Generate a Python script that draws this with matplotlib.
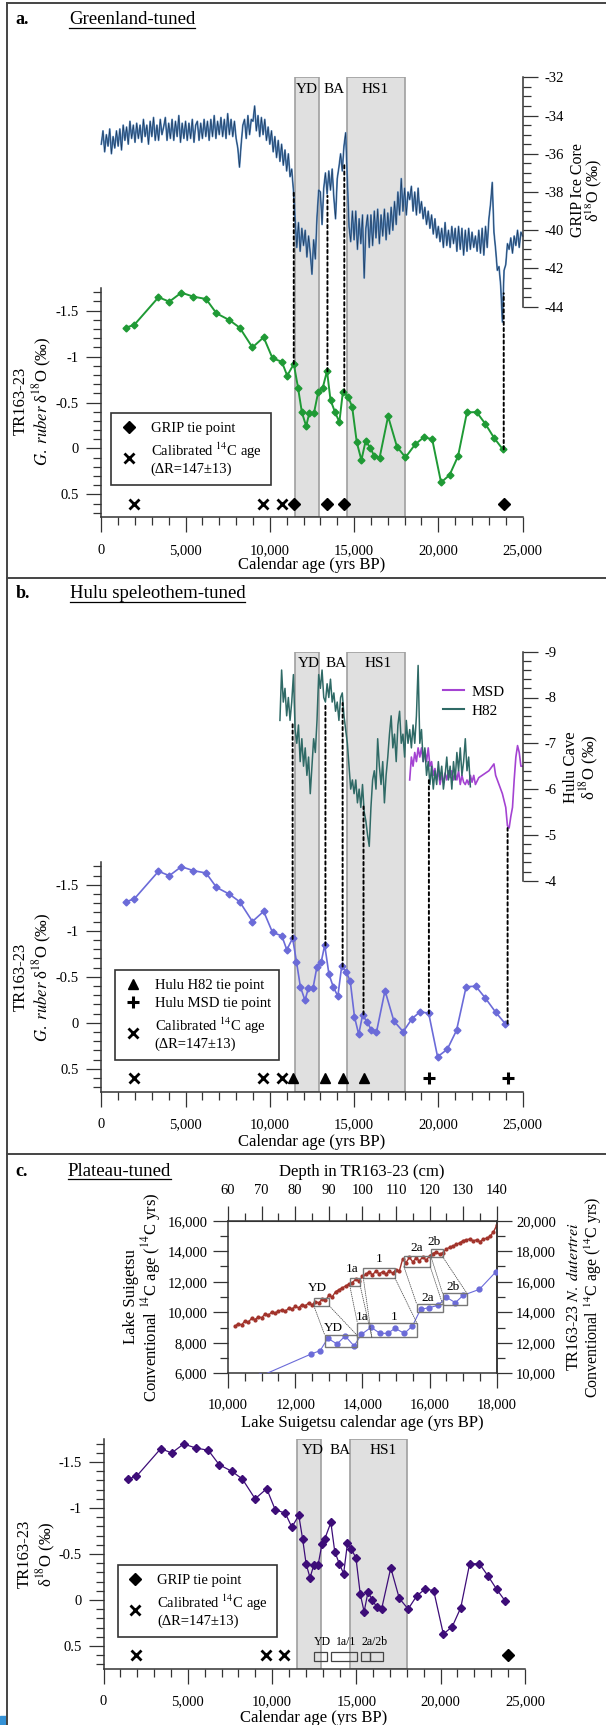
import numpy as np
import matplotlib
matplotlib.use('Agg')
import matplotlib.pyplot as plt
from matplotlib.patches import Rectangle, ConnectionPatch
from matplotlib.lines import Line2D
from matplotlib.ticker import MultipleLocator, FuncFormatter

plt.rcParams['font.family'] = ['Liberation Serif', 'DejaVu Serif']
plt.rcParams['mathtext.fontset'] = 'stix'
plt.rcParams['axes.unicode_minus'] = False

W, H = 606, 1725

# ---------------- data ----------------
# TR163-23 G. ruber d18O (same samples in every panel, different age models)
d18o = [-1.315, -1.344, -1.646, -1.598, -1.696, -1.653, -1.627, -1.471, -1.398, -1.315,
        -1.10, -1.21, -0.981, -0.944, -0.792, -0.919, -0.661, -0.392, -0.243, -0.381,
        -0.381, -0.61, -0.661, -0.843, -0.527, -0.392, -0.287, -0.617, -0.556, -0.454,
        -0.065, 0.127, -0.084, -0.004, 0.08, 0.102, -0.349, -0.018, 0.098, -0.044,
        -0.12, -0.102, 0.37, 0.29, 0.084, -0.392, -0.396, -0.265, -0.116, 0.011]
age_greenland = [1445, 1950, 3394, 4037, 4748, 5459, 6216, 6835, 7592, 8211,
                 8968, 9633, 10161, 10711, 11032, 11422, 11674, 11904, 12156, 12339,
                 12615, 12867, 13142, 13394, 13601, 13876, 14128, 14335, 14656, 14885,
                 15161, 15436, 15688, 15963, 16193, 16514, 17018, 17546, 18050, 18624,
                 19128, 19633, 20161, 20665, 21170, 21697, 22270, 22798, 23303, 23830]
age_hulu = [1445, 1950, 3394, 4037, 4748, 5459, 6216, 6835, 7592, 8211,
            8968, 9633, 10161, 10711, 11010, 11353, 11583, 11812, 12087, 12294,
            12569, 12798, 13050, 13257, 13509, 13761, 14037, 14266, 14518, 14771,
            15023, 15275, 15505, 15780, 16032, 16330, 16835, 17362, 17913, 18440,
            18922, 19427, 19954, 20528, 21078, 21651, 22225, 22798, 23394, 23968]
age_plateau = [1445, 1950, 3394, 4037, 4748, 5459, 6216, 6858, 7615, 8234,
               8991, 9679, 10183, 10780, 11170, 11583, 11812, 12018, 12248, 12477,
               12729, 12959, 13119, 13486, 13716, 13991, 14243, 14472, 14702, 14977,
               15229, 15459, 15688, 15940, 16216, 16491, 17041, 17546, 18073, 18578,
               19083, 19587, 20161, 20688, 21193, 21720, 22294, 22798, 23326, 23830]

cal14c_age = [1930, 9610, 10710]

# GRIP tie points (panel a): age, TR163-23 value, GRIP value
grip_tie_age = [11422, 13420, 14420, 23880]
grip_tie_low = [-0.92, -0.84, -0.61, 0.01]
grip_tie_high = [-38.0, -38.2, -36.5, -43.3]

# Hulu tie points (panel b)
h82_tie_age = [11353, 13300, 14320, 15560]
h82_tie_low = [-0.91, -0.84, -0.61, -0.09]
h82_tie_high = [-7.45, -7.88, -7.88, -5.62]
msd_tie_age = [19440, 24110]
msd_tie_low = [-0.10, 0.01]
msd_tie_high = [-6.2, -5.15]

plateau_grip_tie = [24000]

# GRIP ice core d18O, 100-yr steps from 0 to 25,000 yrs BP
grip_age = np.arange(0, 25001, 100)
grip_d18o = [
    -35.5, -34.8, -35.9, -35.0, -35.6, -34.7, -36.0, -35.1, -35.7, -34.8,
    -35.6, -34.7, -35.8, -34.5, -35.3, -34.6, -35.5, -34.3, -35.2, -34.5,
    -35.4, -34.4, -35.2, -34.5, -35.4, -34.2, -35.1, -34.5, -35.5, -34.3,
    -35.1, -34.1, -35.3, -34.5, -35.3, -34.2, -35.0, -34.6, -34.1, -35.3,
    -34.4, -35.2, -34.2, -35.3, -34.3, -35.1, -34.0, -35.4, -34.4, -35.2,
    -34.3, -35.3, -34.4, -35.2, -34.2, -35.4, -34.5, -34.3, -35.3, -34.4,
    -35.2, -34.2, -35.1, -34.3, -35.3, -34.2, -35.1, -34.0, -35.2, -34.3,
    -35.0, -34.1, -35.1, -34.2, -35.2, -33.9, -35.0, -34.2, -35.1, -34.3,
    -35.2, -35.7, -36.7, -35.5, -34.5, -34.2, -35.2, -34.0, -35.0, -34.2,
    -34.3, -33.5, -34.8, -34.0, -35.1, -34.1, -35.0, -34.2, -35.3, -34.6,
    -35.5, -34.8, -35.9, -35.1, -36.2, -35.3, -36.4, -35.5, -36.6, -35.8,
    -36.9, -36.0, -37.2, -36.8, -37.9, -39.4, -40.9, -39.6, -41.1, -39.9,
    -40.8, -40.0, -41.4, -40.3, -41.2, -42.3, -40.5, -41.5, -39.3, -37.9,
    -38.0, -39.7, -37.8, -37.0, -38.1, -36.9, -37.9, -36.8, -38.3, -39.4,
    -37.3, -36.7, -36.0, -36.9, -35.6, -34.9, -37.4, -39.8, -40.6, -39.0,
    -40.5, -39.0, -41.0, -39.4, -40.7, -39.2, -42.5, -39.9, -39.2, -40.9,
    -39.2, -40.8, -39.0, -40.4, -38.9, -40.7, -39.2, -40.3, -38.9, -40.5,
    -39.1, -40.2, -38.8, -40.0, -38.5, -39.7, -38.0, -39.2, -37.3, -39.0,
    -37.8, -39.2, -38.0, -38.4, -37.7, -39.0, -38.0, -39.2, -37.8, -39.1,
    -38.5, -39.4, -38.8, -39.7, -39.0, -39.9, -39.2, -40.2, -39.4, -40.4,
    -39.8, -40.6, -39.9, -40.9, -39.6, -40.8, -40.0, -40.9, -39.8, -40.7,
    -39.9, -41.1, -39.8, -41.0, -39.9, -41.3, -40.0, -41.1, -39.9, -41.0,
    -40.1, -40.9, -40.3, -41.1, -40.0, -41.2, -39.9, -41.3, -39.8, -40.9,
    -39.4, -38.6, -37.5, -40.1, -41.0, -42.1, -41.9, -42.9, -44.8, -42.1,
    -41.8, -40.7, -41.0, -40.4, -41.2, -40.3, -40.8, -40.0, -40.9, -40.1,
    -40.3]

# Hulu H82 d18O, 100-yr steps from 10,600 to 21,900 yrs BP
h82_age = np.arange(10600, 21901, 100)
h82_d18o = [
    -7.5, -8.6, -7.9, -8.2, -7.6, -8.0, -7.5, -7.9, -8.5, -7.3,
    -7.0, -7.4, -6.6, -7.1, -6.5, -6.9, -6.3, -6.7, -5.9, -6.5,
    -7.1, -6.8, -7.5, -8.5, -8.2, -8.6, -8.0, -7.9, -8.3, -8.0,
    -8.4, -7.9, -8.1, -7.7, -7.9, -7.5, -8.0, -8.1, -7.6, -7.3,
    -7.0, -6.5, -6.0, -6.2, -5.9, -6.2, -5.7, -6.0, -5.6, -6.1,
    -5.5, -5.3, -5.0, -4.75, -5.6, -6.2, -6.4, -6.0, -7.1, -6.5,
    -6.1, -6.6, -5.7, -6.3, -6.7, -7.2, -7.6, -6.9, -7.2, -6.6,
    -7.4, -7.7, -7.0, -7.2, -6.7, -7.5, -7.0, -7.3, -6.9, -7.4,
    -7.0, -7.6, -8.7, -7.0, -7.3, -6.6, -6.9, -6.3, -6.6, -6.1,
    -6.5, -6.0, -6.4, -6.1, -6.6, -6.2, -6.5, -6.0, -6.3, -6.7,
    -6.2, -6.5, -6.0, -6.6, -6.2, -6.8, -6.4, -6.9, -6.3, -6.6,
    -7.1, -6.4, -6.7, -6.05]

# Hulu MSD d18O
msd_age = [18300, 18400, 18500, 18600, 18700, 18800, 18900, 19000, 19100, 19200,
           19300, 19400, 19500, 19600, 19700, 19800, 19900, 20000, 20100, 20200,
           20300, 20400, 20500, 20600, 20700, 20800, 20900, 21000, 21100, 21200,
           21300, 21400, 21500, 21600, 21700, 21800, 21900, 22000, 22100, 22200,
           22400, 22600, 22800, 23000, 23200, 23300, 23400, 23600, 23800, 24000,
           24100, 24200, 24300, 24400, 24500, 24600, 24700, 24800, 24900, 25000]
msd_d18o = [-6.2, -6.7, -6.5, -6.8, -6.6, -6.9, -6.7, -6.9, -6.6, -6.85,
            -6.6, -6.9, -6.5, -6.6, -6.3, -6.45, -6.2, -6.4, -6.1, -6.3,
            -6.15, -6.35, -6.2, -6.4, -6.25, -6.4, -6.2, -6.35, -6.2, -6.4,
            -6.1, -6.3, -6.15, -6.1, -6.2, -6.1, -6.3, -6.15, -6.3, -6.1,
            -6.25, -6.3, -6.35, -6.4, -6.5, -6.55, -6.3, -6.1, -5.9, -5.6,
            -5.2, -5.15, -5.4, -5.6, -6.2, -6.7, -6.95, -6.8, -6.5, -6.5]

# Lake Suigetsu conventional 14C age vs calendar age
sg_age = np.arange(10200, 18001, 100)
sg_c14 = [9080, 9250, 9180, 9420, 9350, 9600, 9520, 9700, 9650, 9880,
          9800, 10020, 9950, 10080, 10150, 10050, 10260, 10200, 10380, 10300,
          10500, 10420, 10620, 10480, 10700, 10620, 10850, 10780, 11100, 11000,
          11350, 11480, 11600, 11720, 11850, 11950, 12150, 12050, 12350, 12480,
          12650, 12450, 12700, 12520, 12650, 12480, 12720, 12550, 12800, 12700,
          13500, 13250, 13600, 13300, 13550, 13350, 13650, 13400, 13700, 13850,
          13950, 13800, 13900, 14150, 14250, 14350, 14450, 14550, 14700, 14750,
          14800, 14680, 14750, 14620, 14800, 14850, 14980, 15250, 15700]

# TR163-23 N. dutertrei conventional 14C age on tuned calendar age
tr_age = [10950, 12475, 12740, 12970, 13246, 13488, 13752, 13971, 14259, 14524,
          14754, 14973, 15250, 15491, 15733, 15986, 16251, 16504, 16769, 17000,
          17484, 17979]
tr_c14 = [9800, 11266, 11485, 12293, 11921, 12445, 11790, 12555, 13013, 12620,
          12620, 12948, 12620, 13100, 14192, 14301, 14454, 14978, 14629, 15109,
          15502, 16659]

# plateau boxes: (cal start, cal end, c14 low, c14 high)
plateau_names = ['YD', '1a', '1', '2a', '2b']
sg_boxes = [(12555, 13016, 10410, 10956), (13626, 13936, 11721, 12223),
            (14029, 14973, 12223, 12878), (15237, 16020, 12987, 13707),
            (16043, 16388, 13642, 14122)]
tr_boxes = [(12878, 13833, 11747, 12511), (13849, 15617, 12360, 13316),
            (15617, 16388, 14039, 14541), (16388, 17113, 14476, 15240)]
# link lines: (Suigetsu cal, Suigetsu 14C) -> (TR cal, TR 14C)
links = [((12555, 10410), (12878, 12511)), ((13016, 10410), (13833, 12511)),
         ((13626, 11721), (13849, 13316)), ((13936, 11721), (14280, 12360)),
         ((14029, 12223), (14280, 12360)), ((14973, 12223), (15617, 13316)),
         ((15237, 12987), (15617, 14541)), ((16020, 12987), (16388, 14541)),
         ((16043, 13642), (16388, 15240)), ((16388, 13642), (17113, 15240))]
plateau_cal_boxes = [(12500, 13280), (13500, 15060), (15300, 15830), (15830, 16560)]
plateau_cal_names = ['YD', '1a/1', '2a/2b']

bands = [(11500, 12900), (14600, 18000)]

# colours
GREEN = '#1f9a35'
BLUE = '#6b6bd8'
PURPLE = '#3d0d78'
GRIP_LIGHT = '#5b8bc0'
GRIP_DARK = '#1d3b5e'
H82C = '#2f6a66'
MSDC = '#a443d2'
SGRED = '#a2332b'
SPINE = '#333333'
BANDF = '#e0e0e0'
BANDE = '#a0a0a0'

fig = plt.figure(figsize=(W / 100, H / 100), dpi=100)


def fx(px):
    return px / W


def fy(py):
    return 1 - py / H


def px_rect(x0, y0, x1, y1):
    return [x0 / W, 1 - y1 / H, (x1 - x0) / W, (y1 - y0) / H]


comma = FuncFormatter(lambda v, p: f'{v:,.0f}')
plain = FuncFormatter(lambda v, p: f'{v:g}')


def tidy(ax, keep):
    for s in ['top', 'bottom', 'left', 'right']:
        ax.spines[s].set_visible(s in keep)
        ax.spines[s].set_color(SPINE)
        ax.spines[s].set_linewidth(1.1)
    ax.tick_params(which='major', length=11, width=0.9, color=SPINE, labelsize=10.5, pad=5)
    ax.tick_params(which='minor', length=5.5, width=0.9, color=SPINE)
    ax.patch.set_alpha(0)


def lower_axes(rect, ages, color, lw, ms):
    ax = fig.add_axes(px_rect(*rect))
    tidy(ax, ['left', 'bottom'])
    ax.plot(ages, d18o, color=color, lw=lw, marker='D', ms=ms, mfc=color, mec=color, zorder=3)
    ax.set_xlim(0, 25000)
    ax.set_ylim(0.75, -1.75)
    ax.xaxis.set_major_locator(MultipleLocator(5000))
    ax.xaxis.set_minor_locator(MultipleLocator(1000))
    ax.yaxis.set_major_locator(MultipleLocator(0.5))
    ax.yaxis.set_minor_locator(MultipleLocator(0.1))
    ax.xaxis.set_major_formatter(comma)
    ax.yaxis.set_major_formatter(plain)
    ax.tick_params(axis='x', which='major', pad=8)
    return ax


def band_axes(rect):
    axb = fig.add_axes(px_rect(*rect))
    axb.set_xlim(0, 25000)
    axb.set_ylim(rect[3], rect[1])
    axb.axis('off')
    for b0, b1 in bands:
        axb.axvspan(b0, b1, fc=BANDF, ec=BANDE, lw=1.2)
    return axb


def band_labels(ax, xs, y):
    for s, x in zip(['YD', 'BA', 'HS1'], xs):
        ax.text(x, y, s, ha='center', va='center', fontsize=11)


def tie_line(axA, xyA, axB, xyB):
    con = ConnectionPatch(xyA=xyA, coordsA=axA.transData, xyB=xyB, coordsB=axB.transData,
                          color='k', lw=1.4, ls=(0, (1.6, 1.6)), zorder=5)
    fig.add_artist(con)


cal_label = 'Calibrated $^{14}$C age\n(ΔR=147±13)'
xmark = dict(ls='none', marker='x', color='k', ms=7, mew=2)


def make_legend(ax, handles, labels, anchor):
    lg = ax.legend(handles, labels, loc='lower left', bbox_to_anchor=anchor, fontsize=10.5,
                   frameon=True, fancybox=False, framealpha=1, edgecolor='#333333',
                   handlelength=1.2, handletextpad=0.9, borderpad=0.6, labelspacing=0.35,
                   borderaxespad=0)
    lg.get_frame().set_linewidth(1.2)
    return lg


titles = []


def panel_title(letter, title, y, x_title):
    fig.text(fx(15.5), fy(y), letter, fontsize=13, fontweight='bold', ha='left', va='center')
    titles.append(fig.text(fx(x_title), fy(y), title, fontsize=13.5, ha='left', va='center'))


def vlabel(x, y, s, size=12):
    fig.text(fx(x), fy(y), s, rotation=90, ha='center', va='center', fontsize=size)


# page frames
for yy in [3, 578.3, 1154]:
    fig.add_artist(Line2D([fx(7), 1], [fy(yy), fy(yy)], color='#444444', lw=1.4))
fig.add_artist(Line2D([fx(7), fx(7)], [fy(3), 0], color='#444444', lw=1.4))
fig.add_artist(Rectangle((0, 0), fx(6), 9 / H, transform=fig.transFigure, color='#3592d6'))

X0, X1 = 101.3, 522.6

# ---------------- panel a ----------------
panel_title('a.', 'Greenland-tuned', 20, 68.8)
bg_a = band_axes((X0, 77.3, X1, 517.3))
band_labels(bg_a, [12220, 13830, 16240], 89.5)

ax_grip = fig.add_axes(px_rect(X0, 77.3, X1, 306.7))
tidy(ax_grip, ['right'])
ax_grip.plot(grip_age, grip_d18o, color=GRIP_LIGHT, lw=1.3, clip_on=False)
ax_grip.plot(grip_age, grip_d18o, color=GRIP_DARK, lw=0.5, clip_on=False)
ax_grip.set_xlim(0, 25000)
ax_grip.set_ylim(-44, -32)
ax_grip.set_xticks([])
ax_grip.yaxis.tick_right()
ax_grip.yaxis.set_major_locator(MultipleLocator(2))
ax_grip.yaxis.set_minor_locator(MultipleLocator(0.5))
ax_grip.yaxis.set_major_formatter(plain)
vlabel(578, 190, 'GRIP Ice Core', 11.5)
vlabel(594, 190, 'δ$^{18}$O (‰)', 11.5)

ax_a = lower_axes((X0, 287.7, X1, 517.3), age_greenland, GREEN, 1.4, 3.5)
ax_a.plot(cal14c_age, [0.6] * len(cal14c_age), **xmark)
ax_a.plot(grip_tie_age, [0.6] * len(grip_tie_age), ls='none', marker='D', color='k', ms=6)
for x, lo, hi in zip(grip_tie_age, grip_tie_low, grip_tie_high):
    tie_line(ax_a, (x, lo), ax_grip, (x, hi))
make_legend(ax_a,
            [Line2D([], [], ls='none', marker='D', color='k', ms=6), Line2D([], [], **xmark)],
            ['GRIP tie point', cal_label], (0.024, 0.141))
vlabel(21, 401, 'TR163-23')
vlabel(42.5, 401, r'$\mathit{G.\ ruber}$ δ$^{18}$O (‰)')
fig.text(fx(312), fy(565), 'Calendar age (yrs BP)', ha='center', va='center', fontsize=12)

# ---------------- panel b ----------------
panel_title('b.', 'Hulu speleothem-tuned', 594, 69.6)
bg_b = band_axes((X0, 651.7, X1, 1091.7))
band_labels(bg_b, [12340, 13940, 16420], 663.5)

ax_hulu = fig.add_axes(px_rect(X0, 651.7, X1, 880.7))
tidy(ax_hulu, ['right'])
ax_hulu.plot(msd_age, msd_d18o, color=MSDC, lw=1.2, zorder=2)
ax_hulu.plot(h82_age, h82_d18o, color=H82C, lw=1.1, zorder=3)
ax_hulu.set_xlim(0, 25000)
ax_hulu.set_ylim(-4, -9)
ax_hulu.set_xticks([])
ax_hulu.yaxis.tick_right()
ax_hulu.yaxis.set_major_locator(MultipleLocator(1))
ax_hulu.yaxis.set_minor_locator(MultipleLocator(0.2))
ax_hulu.yaxis.set_major_formatter(plain)
ax_hulu.legend([Line2D([], [], color=MSDC, lw=1.5), Line2D([], [], color=H82C, lw=1.5)],
               ['MSD', 'H82'], loc='upper left', bbox_to_anchor=(0.81, 0.855), frameon=False,
               fontsize=11, handlelength=1.4, handletextpad=0.5, labelspacing=0.35,
               borderpad=0, borderaxespad=0)
vlabel(571, 767, 'Hulu Cave', 12)
vlabel(589, 767, 'δ$^{18}$O (‰)', 12)

ax_b = lower_axes((X0, 861.7, X1, 1091.7), age_hulu, BLUE, 1.2, 3.5)
ax_b.plot(cal14c_age, [0.6] * len(cal14c_age), **xmark)
ax_b.plot(h82_tie_age, [0.6] * len(h82_tie_age), ls='none', marker='^', color='k', ms=7)
ax_b.plot(msd_tie_age, [0.6] * len(msd_tie_age), ls='none', marker='+', color='k', ms=8, mew=2.2)
for x, lo, hi in zip(h82_tie_age + msd_tie_age, h82_tie_low + msd_tie_low,
                     h82_tie_high + msd_tie_high):
    tie_line(ax_b, (x, lo), ax_hulu, (x, hi))
make_legend(ax_b,
            [Line2D([], [], ls='none', marker='^', color='k', ms=7),
             Line2D([], [], ls='none', marker='+', color='k', ms=8, mew=2.2),
             Line2D([], [], **xmark)],
            ['Hulu H82 tie point', 'Hulu MSD tie point', cal_label], (0.033, 0.138))
vlabel(21, 977, 'TR163-23')
vlabel(42.5, 977, r'$\mathit{G.\ ruber}$ δ$^{18}$O (‰)')
fig.text(fx(312), fy(1141.7), 'Calendar age (yrs BP)', ha='center', va='center', fontsize=12)

# ---------------- panel c ----------------
panel_title('c.', 'Plateau-tuned', 1171.7, 67.6)

ax_in = fig.add_axes(px_rect(228.1, 1220.7, 496.7, 1373.3))
tidy(ax_in, ['left', 'bottom', 'top', 'right'])
ax_in.set_xlim(10000, 18000)
ax_in.set_ylim(6000, 16000)
ax_in.plot(sg_age, sg_c14, color=SGRED, lw=1.0, marker='o', ms=2, zorder=3)
ax_in.xaxis.set_major_locator(MultipleLocator(2000))
ax_in.xaxis.set_minor_locator(MultipleLocator(500))
ax_in.yaxis.set_major_locator(MultipleLocator(2000))
ax_in.yaxis.set_minor_locator(MultipleLocator(1000))
ax_in.xaxis.set_major_formatter(comma)
ax_in.yaxis.set_major_formatter(comma)
ax_in.tick_params(axis='x', which='major', pad=7)
ax_in.tick_params(axis='y', which='major', pad=4)

ax_in2 = ax_in.twinx()
tidy(ax_in2, ['right'])
ax_in2.set_ylim(10000, 20000)
ax_in2.plot(tr_age, tr_c14, color=BLUE, lw=0.8, marker='o', ms=3.5, zorder=3)
ax_in2.yaxis.set_major_locator(MultipleLocator(2000))
ax_in2.yaxis.set_minor_locator(MultipleLocator(1000))
ax_in2.yaxis.set_major_formatter(comma)
ax_in2.tick_params(axis='y', which='major', pad=3)

for (a0, a1, c0, c1) in sg_boxes:
    ax_in.add_patch(Rectangle((a0, c0), a1 - a0, c1 - c0, fill=False, ec='#777777', lw=1.0, zorder=4))
for (a0, a1, c0, c1) in tr_boxes:
    ax_in2.add_patch(Rectangle((a0, c0), a1 - a0, c1 - c0, fill=False, ec='#777777', lw=1.0, zorder=4))
for pa, pb in links:
    fig.add_artist(ConnectionPatch(xyA=pa, coordsA=ax_in.transData, xyB=pb, coordsB=ax_in2.transData,
                                   color='#555555', lw=0.6, ls=(0, (1, 1.5))))
sg_lab = [(12670, 11570), (13706, 12830), (14489, 13470), (15606, 14190), (16135, 14580)]
tr_lab = [(13131, 12990), (14006, 13710), (14950, 13710), (15951, 14956), (16711, 15677)]
for s, (x, y) in zip(plateau_names, sg_lab):
    ax_in.text(x, y, s, ha='center', va='center', fontsize=9.5)
for s, (x, y) in zip(plateau_names, tr_lab):
    ax_in2.text(x, y, s, ha='center', va='center', fontsize=9.5)

sec = ax_in.secondary_xaxis('top', functions=(lambda a: 60 + (a - 10000) / 100,
                                                lambda d: 10000 + (d - 60) * 100))
sec.xaxis.set_major_locator(MultipleLocator(10))
sec.xaxis.set_minor_locator(MultipleLocator(5))
sec.tick_params(which='major', length=11, width=0.9, color=SPINE, labelsize=10.5, pad=6)
sec.tick_params(which='minor', length=5.5, width=0.9, color=SPINE)
sec.spines['top'].set_color(SPINE)
fig.text(fx(362), fy(1171.7), 'Depth in TR163-23 (cm)', ha='center', va='center', fontsize=12)
fig.text(fx(362), fy(1422.7), 'Lake Suigetsu calendar age (yrs BP)', ha='center', va='center', fontsize=12)
vlabel(131.4, 1297, 'Lake Suigetsu')
vlabel(150.8, 1297, 'Conventional $^{14}$C age ($^{14}$C yrs)')
vlabel(574, 1297, r'TR163-23 $\mathit{N.\ dutertrei}$', 11.5)
vlabel(593, 1297, 'Conventional $^{14}$C age ($^{14}$C yrs)', 11.5)

ax_c = lower_axes((103.6, 1439, 524.9, 1669), age_plateau, PURPLE, 0.9, 4)
for b0, b1 in bands:
    ax_c.axvspan(b0, b1, fc=BANDF, ec=BANDE, lw=1.2, zorder=0)
for s, x in zip(['YD', 'BA', 'HS1'], [12420, 14040, 16560]):
    ax_c.text(x, -1.63, s, ha='center', va='center', fontsize=11)
ax_c.plot(cal14c_age, [0.6] * len(cal14c_age), **xmark)
ax_c.plot(plateau_grip_tie, [0.6], ls='none', marker='D', color='k', ms=6)
for a0, a1 in plateau_cal_boxes:
    ax_c.add_patch(Rectangle((a0, 0.56), a1 - a0, 0.1, fill=False, ec='#444444', lw=0.9, zorder=4))
for s, x in zip(plateau_cal_names, [13000, 14400, 16100]):
    ax_c.text(x, 0.46, s, ha='center', va='center', fontsize=8.5)
make_legend(ax_c,
            [Line2D([], [], ls='none', marker='D', color='k', ms=6), Line2D([], [], **xmark)],
            ['GRIP tie point', cal_label], (0.034, 0.14))
vlabel(25, 1554, 'TR163-23')
vlabel(46, 1554, 'δ$^{18}$O (‰)')
fig.text(fx(314), fy(1718), 'Calendar age (yrs BP)', ha='center', va='center', fontsize=12)

# underline panel titles
fig.canvas.draw()
rend = fig.canvas.get_renderer()
for t in titles:
    bb = t.get_window_extent(rend)
    yl = (bb.y0 + 1) / fig.bbox.height
    fig.add_artist(Line2D([bb.x0 / fig.bbox.width, bb.x1 / fig.bbox.width], [yl, yl],
                          color='k', lw=0.9))

fig.savefig('out.png', dpi=100)
